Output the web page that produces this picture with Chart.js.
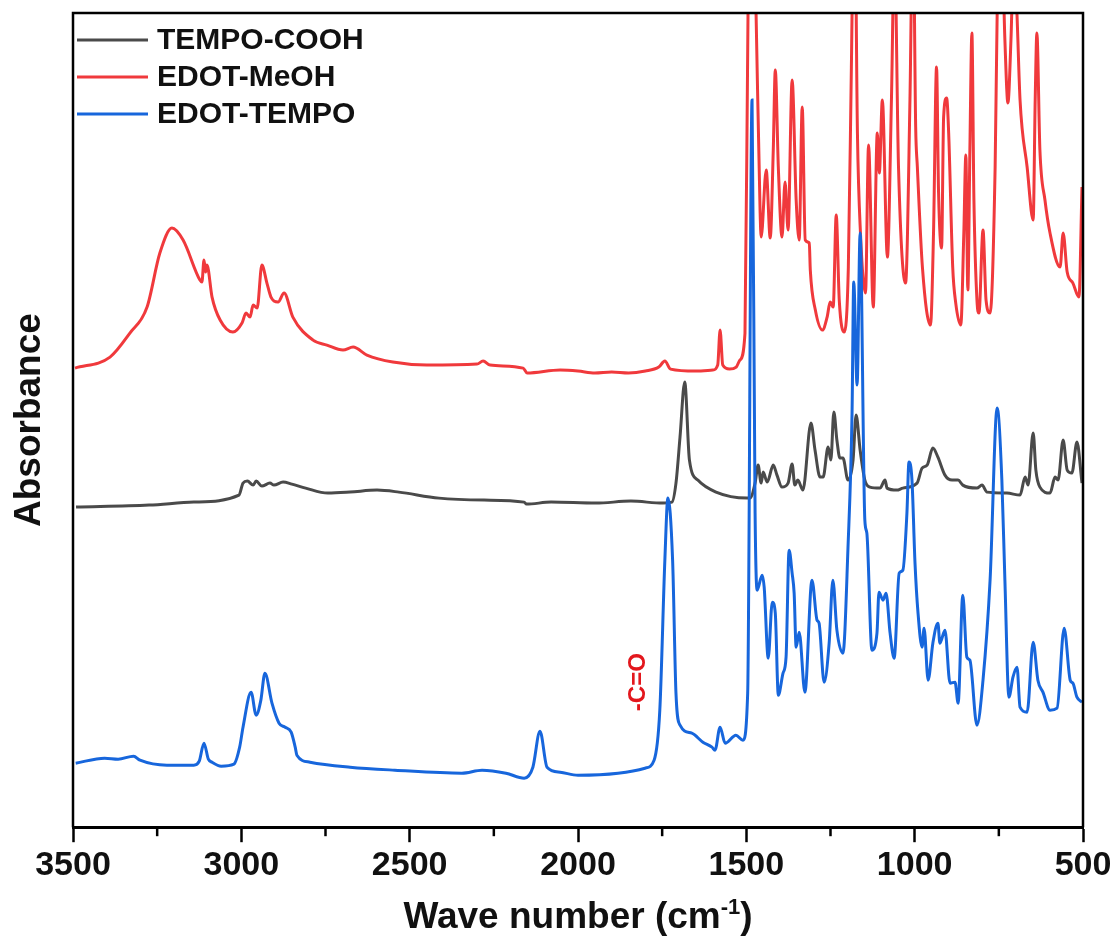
<!DOCTYPE html>
<html>
<head>
<meta charset="utf-8">
<title>FTIR EDOT-TEMPO</title>
<script src="https://cdn.jsdelivr.net/npm/chart.js@4.4.1/dist/chart.umd.min.js"></script>
<style>
  html, body { margin: 0; padding: 0; background: #ffffff; }
  #wrap { width: 1115px; height: 943px; }
</style>
</head>
<body>
<div id="wrap"><canvas id="chart_ftir" width="1115" height="943"></canvas></div>
<script>
// ---- dados (número de onda em cm-1, absorbância em unidades arbitrárias) ----
const wnTempo = [3491, 3274, 3141, 3007, 2995, 2982, 2965, 2956, 2939, 2915, 2903, 2876, 2850, 2809, 2743, 2677, 2597, 2532, 2413, 2279,
  2160, 2153, 2080, 1947, 1843, 1748, 1721, 1709, 1697, 1683, 1669, 1644, 1590, 1498, 1489, 1474, 1465, 1456, 1450, 1438,
  1420, 1409, 1394, 1376, 1364, 1356, 1347, 1332, 1308, 1296, 1281, 1272, 1257, 1249, 1240, 1231, 1222, 1213, 1198, 1183,
  1174, 1162, 1148, 1133, 1103, 1088, 1082, 1053, 1035, 993, 978, 963, 946, 931, 910, 889, 871, 857, 815, 800,
  785, 726, 687, 672, 663, 648, 640, 628, 598, 583, 574, 559, 547, 533, 518, 503];
const absTempo = [3.20, 3.22, 3.25, 3.32, 3.44, 3.46, 3.42, 3.46, 3.41, 3.44, 3.42, 3.45, 3.43, 3.39, 3.34, 3.35, 3.37, 3.35, 3.29, 3.27,
  3.25, 3.23, 3.25, 3.24, 3.26, 3.24, 3.25, 3.44, 3.90, 4.45, 3.67, 3.47, 3.35, 3.29, 3.29, 3.44, 3.62, 3.44, 3.55, 3.45,
  3.62, 3.52, 3.40, 3.44, 3.63, 3.42, 3.47, 3.37, 4.04, 3.77, 3.50, 3.50, 3.80, 3.67, 4.15, 3.87, 3.69, 3.69, 3.47, 3.67,
  4.12, 3.77, 3.47, 3.40, 3.39, 3.47, 3.39, 3.37, 3.39, 3.44, 3.59, 3.62, 3.79, 3.70, 3.52, 3.47, 3.47, 3.42, 3.39, 3.42,
  3.35, 3.34, 3.32, 3.50, 3.42, 3.94, 3.57, 3.40, 3.34, 3.50, 3.47, 3.87, 3.57, 3.54, 3.85, 3.44];

const wnMeoh = [3494, 3390, 3331, 3280, 3242, 3206, 3173, 3123, 3117, 3111, 3106, 3102, 3087, 3063, 3025, 2998, 2986, 2974, 2965, 2953,
  2939, 2924, 2912, 2891, 2873, 2847, 2787, 2746, 2698, 2668, 2627, 2550, 2449, 2300, 2282, 2261, 2163, 2151, 2053, 2000,
  1950, 1900, 1850, 1800, 1760, 1742, 1725, 1650, 1600, 1585, 1578, 1570, 1550, 1530, 1519, 1504, 1495, 1483, 1471, 1459,
  1456, 1441, 1429, 1420, 1414, 1405, 1394, 1385, 1376, 1364, 1352, 1343, 1334, 1325, 1313, 1310, 1295, 1274, 1260, 1251,
  1242, 1233, 1224, 1209, 1197, 1188, 1179, 1170, 1161, 1146, 1137, 1123, 1111, 1105, 1096, 1081, 1069, 1060, 1048, 1027,
  1014, 1005, 997, 992, 977, 953, 944, 935, 929, 920, 914, 905, 899, 887, 878, 863, 854, 848, 842, 836,
  830, 824, 815, 809, 797, 788, 776, 761, 755, 744, 732, 723, 714, 705, 696, 687, 666, 648, 642, 637,
  628, 613, 598, 568, 559, 547, 530, 512, 503];
const absMeoh = [4.59, 4.70, 4.94, 5.20, 5.74, 5.99, 5.87, 5.47, 5.45, 5.67, 5.55, 5.62, 5.30, 5.07, 4.95, 5.04, 5.14, 5.10, 5.22, 5.19,
  5.62, 5.44, 5.30, 5.25, 5.34, 5.10, 4.87, 4.82, 4.77, 4.80, 4.72, 4.65, 4.62, 4.63, 4.66, 4.62, 4.59, 4.54, 4.57, 4.56,
  4.54, 4.55, 4.54, 4.56, 4.60, 4.66, 4.58, 4.56, 4.57, 4.62, 4.97, 4.62, 4.58, 4.60, 4.67, 4.94, 8.14, 10.0, 8.12, 6.14,
  5.90, 6.57, 5.89, 6.77, 7.57, 6.60, 5.90, 6.45, 5.97, 7.47, 6.27, 5.87, 7.20, 5.87, 5.84, 5.57, 5.17, 4.97, 5.10, 5.25,
  5.20, 6.12, 5.27, 4.95, 5.60, 7.60, 9.6, 6.94, 5.94, 5.34, 6.82, 5.20, 6.94, 6.54, 7.27, 5.70, 7.27, 8.8, 6.60, 5.44,
  7.27, 9.2, 7.0, 6.60, 5.60, 5.02, 5.94, 7.60, 6.34, 5.79, 7.10, 7.29, 6.94, 5.60, 5.24, 5.02, 5.94, 6.72, 5.37, 6.77,
  7.94, 6.27, 5.27, 5.14, 5.97, 5.27, 5.14, 6.60, 8.12, 9.2, 7.87, 7.24, 7.87, 8.8, 8.12, 7.27, 6.60, 6.07, 7.27, 7.94,
  6.77, 6.27, 5.94, 5.60, 5.94, 5.55, 5.44, 5.30, 6.40];

const wnEdotTempo = [3492, 3406, 3366, 3320, 3301, 3221, 3141, 3125, 3111, 3098, 3087, 3060, 3022, 3005, 2995, 2971, 2956, 2942, 2930, 2909,
  2888, 2870, 2852, 2840, 2835, 2796, 2677, 2544, 2345, 2285, 2214, 2160, 2134, 2113, 2092, 2053, 2000, 1881, 1801, 1774,
  1757, 1742, 1733, 1719, 1709, 1697, 1662, 1629, 1602, 1593, 1578, 1563, 1531, 1510, 1496, 1483, 1474, 1468, 1453, 1447,
  1435, 1423, 1414, 1405, 1391, 1382, 1373, 1364, 1358, 1352, 1343, 1326, 1305, 1290, 1284, 1269, 1254, 1243, 1231, 1213,
  1198, 1186, 1181, 1171, 1162, 1148, 1142, 1127, 1112, 1106, 1094, 1085, 1073, 1061, 1046, 1035, 1023, 1017, 1008, 999,
  990, 978, 972, 960, 946, 931, 925, 910, 895, 880, 871, 857, 845, 836, 815, 797, 776, 755, 741, 732,
  720, 708, 696, 687, 666, 648, 634, 619, 598, 577, 556, 538, 530, 518, 503];
const absEdotTempo = [0.64, 0.69, 0.68, 0.71, 0.67, 0.62, 0.62, 0.66, 0.84, 0.68, 0.65, 0.61, 0.63, 0.80, 1.00, 1.35, 1.12, 1.27, 1.54, 1.24,
  1.04, 1.00, 0.95, 0.80, 0.72, 0.65, 0.60, 0.57, 0.54, 0.57, 0.54, 0.49, 0.60, 0.96, 0.60, 0.55, 0.52, 0.54, 0.59, 0.67,
  1.17, 2.67, 3.29, 2.67, 1.34, 1.02, 0.94, 0.85, 0.80, 0.77, 1.00, 0.84, 0.92, 0.87, 1.34, 7.27, 3.14, 2.37, 2.52, 2.40,
  1.69, 2.25, 2.14, 1.32, 1.54, 1.70, 2.77, 2.54, 2.34, 1.80, 1.95, 1.35, 2.47, 2.07, 2.04, 1.45, 1.84, 2.47, 1.97, 1.74,
  2.80, 4.14, 5.45, 4.42, 5.94, 3.07, 2.94, 1.77, 1.94, 2.35, 2.27, 2.34, 1.94, 1.69, 2.54, 2.57, 3.14, 3.65, 3.47, 2.64,
  2.14, 1.80, 1.99, 1.47, 1.84, 2.04, 1.84, 1.97, 1.44, 1.45, 1.24, 2.32, 1.70, 1.67, 1.02, 1.47, 2.47, 4.19, 3.47, 2.47,
  1.30, 1.50, 1.60, 1.20, 1.15, 1.85, 1.47, 1.35, 1.17, 1.19, 1.99, 1.47, 1.44, 1.30, 1.25];

const xTicks = [3500, 3000, 2500, 2000, 1500, 1000, 500];
const xMinorTicks = [3250, 2750, 2250, 1750, 1250, 750];
const seriesNames = ['TEMPO-COOH', 'EDOT-MeOH', 'EDOT-TEMPO'];
const seriesColors = ['#4a4a4a', '#f0393c', '#1766dc'];

// junta x e y em pares para o Chart.js
function pares(xs, ys) {
    let out = [];
    for (let i = 0; i < Math.min(xs.length, ys.length); i++) {
        out.push({ x: xs[i], y: ys[i] });
    }
    return out;
}

const fonte = 'Liberation Sans, Arial, Helvetica, sans-serif';

// desenha moldura, ticks menores, legenda, títulos e a anotação -C=O
const decoracao = {
    id: 'decoracao',
    afterDraw(chart) {
        const ctx = chart.ctx;
        const area = chart.chartArea;
        const xs = chart.scales.x;
        const ys = chart.scales.y;
        ctx.save();

        ctx.strokeStyle = '#000';
        ctx.lineWidth = 2.5;
        ctx.beginPath();
        ctx.moveTo(area.left, area.bottom);
        ctx.lineTo(area.left, area.top);
        ctx.lineTo(area.right, area.top);
        ctx.lineTo(area.right, area.bottom);
        ctx.stroke();

        xMinorTicks.forEach(function (v) {
            const px = xs.getPixelForValue(v);
            ctx.beginPath();
            ctx.moveTo(px, area.bottom);
            ctx.lineTo(px, area.bottom + 9);
            ctx.stroke();
        });

        // legenda
        ctx.font = 'bold 30px ' + fonte;
        ctx.textAlign = 'left';
        ctx.textBaseline = 'middle';
        for (let i = 0; i < seriesNames.length; i++) {
            const y = area.top + 27 + i * 37;
            ctx.strokeStyle = seriesColors[i];
            ctx.lineWidth = 3;
            ctx.beginPath();
            ctx.moveTo(area.left + 4, y);
            ctx.lineTo(area.left + 75, y);
            ctx.stroke();
            ctx.fillStyle = '#111';
            ctx.fillText(seriesNames[i], area.left + 84, y + 1);
        }

        // título do eixo x com expoente
        ctx.fillStyle = '#111';
        ctx.textBaseline = 'alphabetic';
        const big = 'bold 37px ' + fonte;
        const small = 'bold 22px ' + fonte;
        ctx.font = big;
        const t1 = 'Wave number (cm', t3 = ')';
        const w1 = ctx.measureText(t1).width, w3 = ctx.measureText(t3).width;
        ctx.font = small;
        const w2 = ctx.measureText('-1').width;
        let x0 = (area.left + area.right) / 2 - (w1 + w2 + w3) / 2;
        const base = 928;
        ctx.font = big;
        ctx.fillText(t1, x0, base);
        ctx.font = small;
        ctx.fillText('-1', x0 + w1, base - 14);
        ctx.font = big;
        ctx.fillText(t3, x0 + w1 + w2, base);

        // título do eixo y
        ctx.save();
        ctx.translate(30, (area.top + area.bottom) / 2);
        ctx.rotate(-Math.PI / 2);
        ctx.textAlign = 'center';
        ctx.textBaseline = 'middle';
        ctx.font = big;
        ctx.fillText('Absorbance', 0, 0);
        ctx.restore();

        // anotação da carbonila
        ctx.save();
        ctx.translate(xs.getPixelForValue(1822), ys.getPixelForValue(1.45));
        ctx.rotate(-Math.PI / 2);
        ctx.textAlign = 'center';
        ctx.textBaseline = 'middle';
        ctx.fillStyle = '#e3171d';
        ctx.font = 'bold 24px ' + fonte;
        ctx.fillText('-C=O', 0, 0);
        ctx.restore();

        ctx.restore();
    }
};

const dados = {
    datasets: [
        { label: seriesNames[0], data: pares(wnTempo, absTempo), borderColor: seriesColors[0], order: 2 },
        { label: seriesNames[1], data: pares(wnMeoh, absMeoh), borderColor: seriesColors[1], order: 1 },
        { label: seriesNames[2], data: pares(wnEdotTempo, absEdotTempo), borderColor: seriesColors[2], order: 0 }
    ]
};

const config_ftir = {
    type: 'line',
    data: dados,
    options: {
        responsive: false,
        animation: false,
        parsing: true,
        layout: {
            padding: { left: 73, right: 32, top: 13, bottom: 54 }
        },
        elements: {
            point: { radius: 0 },
            line: { borderWidth: 3, cubicInterpolationMode: 'monotone', fill: false }
        },
        scales: {
            x: {
                type: 'linear',
                reverse: true,
                min: 500,
                max: 3500,
                afterBuildTicks: function (scale) {
                    scale.ticks = xTicks.map(function (v) { return { value: v }; });
                },
                ticks: {
                    color: '#111',
                    padding: 3,
                    maxRotation: 0,
                    autoSkip: false,
                    font: { family: fonte, size: 34, weight: 'bold' },
                    callback: function (v) { return String(v); }
                },
                grid: {
                    display: true,
                    drawOnChartArea: false,
                    drawTicks: true,
                    tickLength: 15,
                    tickColor: '#000',
                    tickWidth: 2.5
                },
                border: { display: true, color: '#000', width: 3 }
            },
            y: {
                display: false,
                min: 0,
                max: 8.14
            }
        },
        plugins: {
            legend: { display: false },
            tooltip: { enabled: false }
        }
    },
    plugins: [decoracao]
};

const chart_ftir = new Chart(document.getElementById('chart_ftir'), config_ftir);
</script>
</body>
</html>
